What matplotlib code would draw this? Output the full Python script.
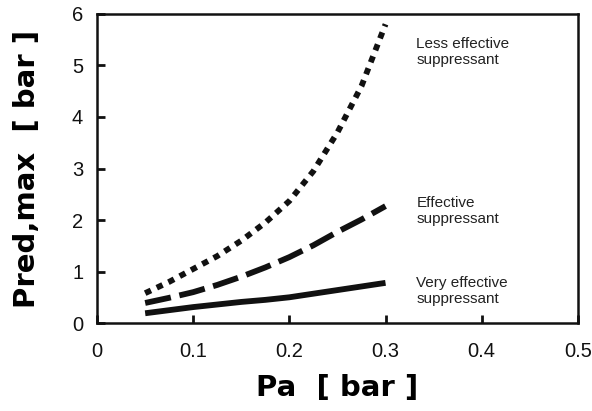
import matplotlib.pyplot as plt
import numpy as np

plt.rcParams['font.family'] = ['Liberation Sans', 'DejaVu Sans']

pa = [0.05, 0.075, 0.1, 0.125, 0.15, 0.175, 0.2, 0.225, 0.25, 0.275, 0.3]
less_eff = [0.58, 0.8, 1.05, 1.3, 1.6, 1.95, 2.37, 2.95, 3.7, 4.6, 5.8]
eff = [0.39, 0.49, 0.6, 0.74, 0.9, 1.08, 1.28, 1.51, 1.77, 2.01, 2.27]
very_eff = [0.19, 0.25, 0.31, 0.36, 0.41, 0.45, 0.5, 0.57, 0.64, 0.71, 0.78]

labels = ['Less effective\nsuppressant', 'Effective\nsuppressant', 'Very effective\nsuppressant']
label_y = [5.26, 2.17, 0.62]

fig = plt.figure(figsize=(5.92, 4.11), dpi=100)
ax = fig.add_axes([0.164, 0.214, 0.812, 0.752])

ax.plot(pa, less_eff, color='#111111', lw=4.2, dashes=(1.1, 1.1), dash_capstyle='butt')
ax.plot(pa, eff, color='#111111', lw=4.2, dashes=(4.5, 1.5), dash_capstyle='butt')
ax.plot(pa, very_eff, color='#111111', lw=4.2, solid_capstyle='butt')

for t, y in zip(labels, label_y):
    ax.text(0.332, y, t, fontsize=11, va='center', ha='left', linespacing=1.2, color='#222222')

ax.set_xlim(0, 0.5)
ax.set_ylim(0, 6)
ax.set_xticks([0, 0.1, 0.2, 0.3, 0.4, 0.5])
ax.set_xticklabels(['0', '0.1', '0.2', '0.3', '0.4', '0.5'])
ax.set_yticks(range(7))
ax.tick_params(direction='in', length=6, width=2, labelsize=14.5, colors='#111111')
ax.tick_params(axis='x', pad=14)
ax.tick_params(axis='y', pad=10)
for s in ax.spines.values():
    s.set_linewidth(1.8)
    s.set_color('#111111')

ax.set_xlabel('Pa  [ bar ]', fontsize=21, fontweight='heavy', family='DejaVu Sans', labelpad=9)
ax.set_ylabel('Pred,max  [ bar ]', fontsize=21, fontweight='heavy', family='DejaVu Sans', labelpad=22)

plt.savefig('out.png', dpi=100)
